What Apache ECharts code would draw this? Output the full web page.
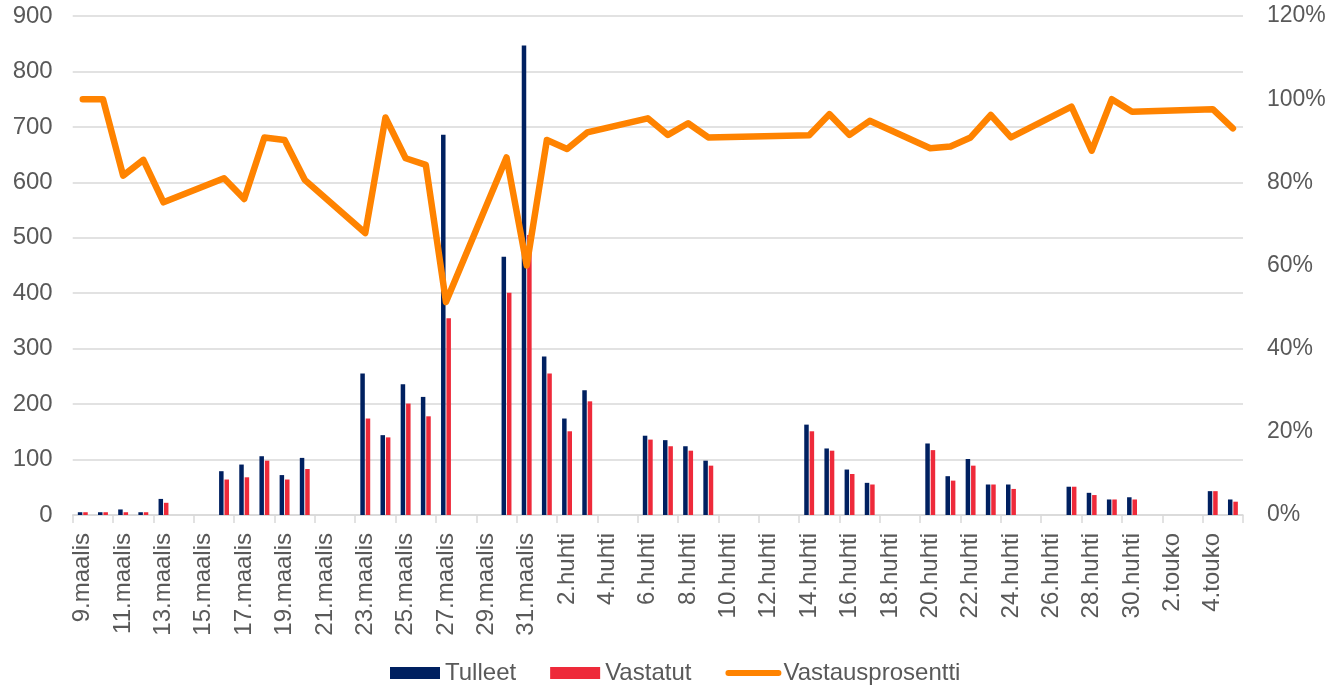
<!DOCTYPE html>
<html>
<head>
<meta charset="utf-8">
<script src="https://cdn.jsdelivr.net/npm/echarts@6/dist/echarts.min.js"></script>
<style>
html,body{margin:0;padding:0;background:#fff;}
#chart{width:1330px;height:687px;}
</style>
</head>
<body>
<div id="chart"></div>
<script>
const categories = [
  "9.maalis","10.maalis","11.maalis","12.maalis","13.maalis","14.maalis","15.maalis",
  "16.maalis","17.maalis","18.maalis","19.maalis","20.maalis","21.maalis","22.maalis",
  "23.maalis","24.maalis","25.maalis","26.maalis","27.maalis","28.maalis","29.maalis",
  "30.maalis","31.maalis","1.huhti","2.huhti","3.huhti","4.huhti","5.huhti",
  "6.huhti","7.huhti","8.huhti","9.huhti","10.huhti","11.huhti","12.huhti",
  "13.huhti","14.huhti","15.huhti","16.huhti","17.huhti","18.huhti","19.huhti",
  "20.huhti","21.huhti","22.huhti","23.huhti","24.huhti","25.huhti","26.huhti",
  "27.huhti","28.huhti","29.huhti","30.huhti","1.touko","2.touko","3.touko",
  "4.touko","5.touko"
];
const tulleet = [
  5,5,10,5,29,null,null,
  79,91,106,72,103,null,null,
  255,144,236,213,686,null,null,
  466,847,286,174,225,null,null,
  143,135,124,98,null,null,null,
  null,163,120,82,58,null,null,
  129,70,101,55,55,null,null,
  51,40,28,32,null,null,null,
  43,28
];
const vastatut = [
  5,5,5,5,22,null,null,
  64,68,98,64,83,null,null,
  174,140,201,178,355,null,null,
  401,505,255,151,205,null,null,
  136,124,116,89,null,null,null,
  null,151,116,74,55,null,null,
  117,62,89,55,47,null,null,
  51,36,28,28,null,null,null,
  43,24
];
const vastausprosentti = [
  100,100,81.6,85.4,75.2,null,null,
  81.0,76.0,90.8,90.2,80.6,null,null,
  67.8,95.6,85.8,84.2,51.2,null,null,
  86.0,60.0,90.2,88.0,92.0,null,null,
  95.4,91.4,94.2,90.8,null,null,null,
  null,91.3,96.4,91.4,94.8,null,null,
  88.2,88.6,90.8,96.2,90.8,null,null,
  98.2,87.6,100,97.0,null,null,null,
  97.6,93.0
];
const leftTicks = {min:0, max:900, interval:100};
const rightTicks = {min:0, max:120, interval:20};

const FONT = "'Liberation Sans', Arial, sans-serif";
const GRAY = '#595959';
const GRID = '#d9d9d9';
const ORANGE = '#FF8300';

const chart = echarts.init(document.getElementById('chart'), null, {renderer:'canvas'});
chart.setOption({
  animation:false,
  backgroundColor:'#ffffff',
  textStyle:{fontFamily:FONT},
  grid:{left:72.7, right:87, top:16, height:499, containLabel:false},
  legend:{
    left:385, top:656,
    itemWidth:50, itemHeight:12, itemGap:34,
    textStyle:{fontFamily:FONT, fontSize:24, color:GRAY},
    data:[
      {name:'Tulleet', icon:'rect'},
      {name:'Vastatut', icon:'rect'},
      {name:'Vastausprosentti', itemStyle:{opacity:0},
       lineStyle:{width:6, color:ORANGE, cap:'round', opacity:1}}
    ]
  },
  xAxis:{
    type:'category',
    data:categories,
    boundaryGap:true,
    axisLine:{show:true, lineStyle:{color:GRID, width:1.5}},
    axisTick:{show:true, interval:1, length:8, lineStyle:{color:GRID, width:1.5}},
    axisLabel:{interval:1, rotate:90, margin:18, fontSize:24, color:GRAY, fontFamily:FONT},
    splitLine:{show:false}
  },
  yAxis:[
    {
      type:'value', min:leftTicks.min, max:leftTicks.max, interval:leftTicks.interval,
      axisLine:{show:false}, axisTick:{show:false},
      axisLabel:{margin:20, fontSize:24, color:GRAY, fontFamily:FONT},
      splitLine:{show:true, lineStyle:{color:GRID, width:1.5}}
    },
    {
      type:'value', min:rightTicks.min, max:rightTicks.max, interval:rightTicks.interval,
      position:'right',
      axisLine:{show:false}, axisTick:{show:false},
      axisLabel:{margin:24, fontSize:23, color:GRAY, fontFamily:FONT, formatter:'{value}%'},
      splitLine:{show:false}
    }
  ],
  series:[
    {
      name:'Tulleet', type:'bar', yAxisIndex:0, data:tulleet,
      barWidth:4.5, barGap:'20%',
      itemStyle:{color:'#002060'}
    },
    {
      name:'Vastatut', type:'bar', yAxisIndex:0, data:vastatut,
      barWidth:4.5, barGap:'20%',
      itemStyle:{color:'#EE2A3A'}
    },
    {
      name:'Vastausprosentti', type:'line', yAxisIndex:1, data:vastausprosentti,
      connectNulls:true, symbol:'none', smooth:false,
      lineStyle:{color:ORANGE, width:6.5, cap:'round', join:'round'},
      itemStyle:{color:ORANGE},
      z:5
    }
  ]
});
</script>
</body>
</html>
